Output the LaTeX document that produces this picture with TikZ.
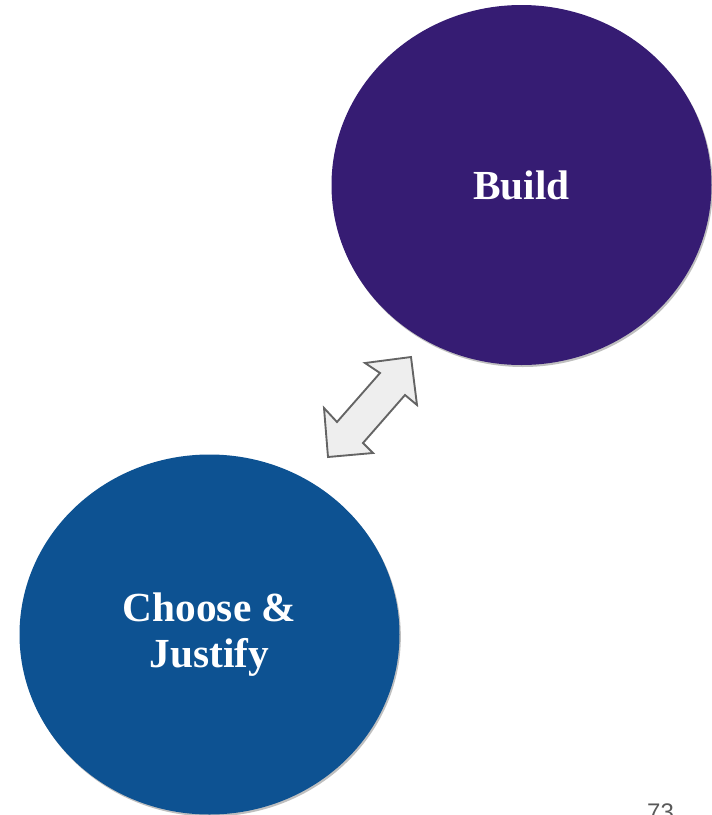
\documentclass[tikz,border=0pt]{standalone}
\usepackage{fontspec}
\setmainfont{Liberation Serif}
\setsansfont{Liberation Sans}
\usetikzlibrary{shapes.geometric,shadows}
\definecolor{buildpurple}{RGB}{54,28,115}
\definecolor{chooseblue}{RGB}{13,82,146}
\definecolor{arrowfill}{RGB}{238,238,238}
\definecolor{arrowline}{RGB}{100,100,100}
\definecolor{pagenum}{RGB}{89,89,89}
\begin{document}
\begin{tikzpicture}[x=0.75pt,y=-0.75pt,
  bubble/.style={ellipse, minimum width=285pt, minimum height=270pt, inner sep=0pt,
    text=white, font=\bfseries\fontsize{31}{35}\selectfont, align=center,
    drop shadow={shadow xshift=1pt, shadow yshift=-1.5pt, opacity=0.25, fill=black}},
  blockarrow/.style={draw=arrowline, fill=arrowfill, line width=1.4pt, line join=miter},
  pagestyle/.style={font=\sffamily\fontsize{18}{20}\selectfont, text=pagenum, anchor=base, inner sep=0pt}
]
\useasboundingbox (0,0) rectangle (712,815);
\node[bubble, fill=buildpurple] (build) at (521.5,185) {Build};
\node[bubble, fill=chooseblue] (choose) at (209.5,634.5) {Choose \&\\Justify};
\coordinate (t1) at (411,357);
\coordinate (t2) at (328,457);
\draw[blockarrow] (t1) -- (417,405) -- (405,395) -- (363,443) -- (373,453) -- (t2)
  -- (324,408) -- (337,422) -- (380,373) -- (365,363) -- cycle;
\node[pagestyle] (pg) at (660.5,820) {73};
\end{tikzpicture}
\end{document}
